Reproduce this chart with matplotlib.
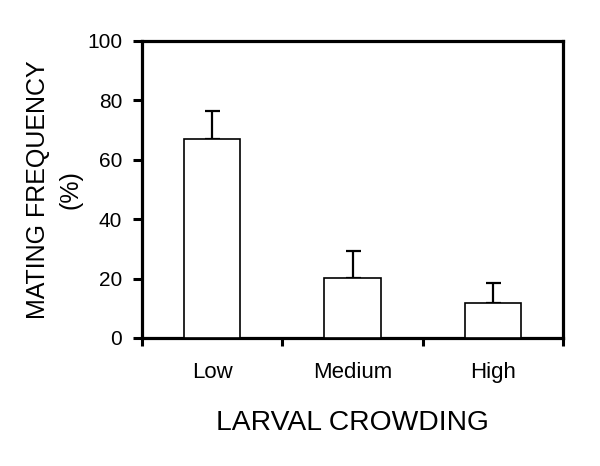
import numpy as np
import matplotlib
matplotlib.use("Agg")
import matplotlib.pyplot as plt

# Data
categories = ["Low", "Medium", "High"]
mating_freq = [66.8, 20.3, 11.9]
err_upper = [9.4, 8.9, 6.7]
y_ticks = [0, 20, 40, 60, 80, 100]

plt.rcParams["font.family"] = ["Liberation Sans", "DejaVu Sans"]

fig = plt.figure(figsize=(6.0, 4.66), dpi=100)
ax = fig.add_axes([0.237, 0.2747, 0.701, 0.638])

x = np.arange(len(categories))
ax.bar(x, mating_freq, width=0.4, color="white", edgecolor="black",
       linewidth=1.2, zorder=3)
ax.errorbar(x, mating_freq, yerr=[np.zeros(len(x)), err_upper], fmt="none",
            ecolor="black", elinewidth=1.6, capsize=5.4, capthick=1.6, zorder=2)

ax.set_xlim(-0.5, 2.5)
ax.set_ylim(0, 100)
ax.set_yticks(y_ticks)
ax.set_xticks(x)
ax.set_xticklabels(categories)
ax.set_xticks([-0.5, 0.5, 1.5, 2.5], minor=True)

for s in ax.spines.values():
    s.set_linewidth(2.3)

ax.tick_params(axis="y", which="major", direction="out", length=6.5, width=2.2,
               pad=8, labelsize=15)
ax.tick_params(axis="x", which="major", length=0, pad=17, labelsize=16)
ax.tick_params(axis="x", which="minor", direction="out", length=6, width=2.2)

ax.set_xlabel("LARVAL CROWDING", fontsize=20.3, labelpad=20)
ax.set_ylabel("MATING FREQUENCY\n(%)", fontsize=18, labelpad=3,
              linespacing=1.45)

fig.savefig("out.png", dpi=100)
